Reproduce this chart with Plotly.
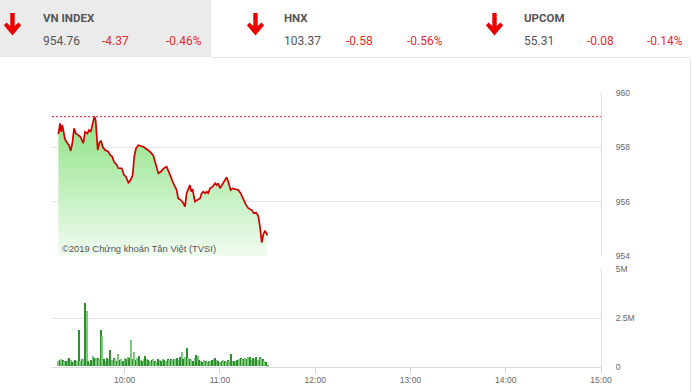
import plotly.graph_objects as go
import pandas as pd

DAY = "2019-01-01 "

# Intraday VN-Index (time, value)
TIMES = ["09:18:12","09:19:18","09:19:54","09:20:42","09:21:18","09:22:24","09:23:54","09:24:54","09:26:00","09:27:00",
         "09:28:06","09:29:12","09:30:48","09:32:18","09:33:54","09:35:00","09:36:30","09:37:30","09:38:36","09:39:36",
         "09:40:54","09:41:42","09:42:24","09:43:00","09:44:00","09:45:06","09:46:06","09:47:36","09:49:42","09:50:42",
         "09:52:12","09:53:18","09:55:00","09:56:00","09:58:06","09:59:36","10:00:48","10:02:18","10:03:48","10:05:00",
         "10:06:00","10:07:06","10:08:36","10:10:06","10:11:42","10:13:54","10:15:54","10:18:00","10:19:42","10:21:12",
         "10:22:42","10:24:42","10:26:24","10:27:30","10:29:00","10:30:36","10:32:42","10:33:42","10:35:24","10:36:54",
         "10:38:00","10:39:00","10:40:00","10:41:06","10:41:54","10:42:48","10:43:36","10:44:18","10:45:42","10:47:24",
         "10:48:30","10:49:30","10:50:36","10:51:36","10:52:36","10:53:42","10:55:24","10:56:54","10:57:54","10:58:54",
         "11:00:00","11:01:06","11:02:30","11:04:12","11:05:12","11:06:42","11:08:00","11:10:06","11:11:30","11:13:00",
         "11:14:42","11:16:24","11:17:48","11:20:00","11:21:24","11:22:42","11:24:06","11:25:12","11:26:18","11:27:18",
         "11:28:18","11:29:24","11:30:00"]
INDEX = [958.49,958.88,958.57,958.82,958.64,958.29,958.15,958.08,957.87,958.15,
         958.70,958.51,958.45,958.37,958.15,958.57,958.51,958.64,958.57,958.86,
         959.13,959.00,958.51,957.90,958.17,958.24,958.02,957.90,957.84,957.72,
         957.65,957.47,957.35,957.23,957.23,956.98,956.92,956.70,956.80,956.98,
         957.65,957.96,958.08,958.05,958.02,957.93,957.84,957.70,957.29,957.04,
         957.10,957.23,957.29,957.10,956.92,956.68,956.43,956.12,956.06,955.94,
         955.82,956.31,956.43,956.61,956.37,956.46,956.18,956.00,956.06,956.12,
         956.31,956.37,956.31,956.37,956.31,956.49,956.55,956.68,956.61,956.68,
         956.49,956.61,956.74,956.90,956.74,956.43,956.49,956.46,956.43,956.31,
         956.06,955.88,955.76,955.69,955.57,955.60,955.47,955.08,954.49,954.78,
         954.93,954.84,954.76]
REFERENCE = 959.13

# Volume per minute (millions of shares), starting 09:18
VOL_START = "09:18"
VOLUME = [0.30,0.35,0.38,0.33,0.28,0.30,0.40,0.42,0.35,0.25,
          0.30,0.32,0.28,1.88,0.30,0.38,0.40,3.25,2.87,0.30,
          0.15,0.35,0.55,0.45,0.42,0.45,0.40,1.88,1.57,0.40,
          0.30,0.45,0.40,0.84,0.35,0.45,0.40,0.30,0.63,0.35,
          0.40,0.30,0.45,0.40,0.50,0.45,1.38,0.40,0.72,0.35,
          0.45,0.55,0.35,0.30,0.40,0.55,0.40,0.35,0.30,0.35,
          0.40,0.30,0.25,0.40,0.35,0.30,0.40,0.35,0.30,0.38,
          0.35,0.40,0.35,0.38,0.40,0.45,0.35,0.50,0.72,0.40,
          0.50,0.97,0.45,0.40,0.35,0.30,0.45,0.58,0.55,0.35,
          0.30,0.25,0.35,0.30,0.25,0.30,0.28,0.35,0.40,0.42,
          0.35,0.30,0.25,0.30,0.35,0.30,0.25,0.35,0.30,0.63,
          0.30,0.28,0.30,0.35,0.40,0.42,0.38,0.40,0.45,0.40,
          0.48,0.50,0.35,0.45,0.40,0.48,0.35,0.50,0.45,0.40,
          0.30,0.25,0.05]

X_TICKS = ["10:00", "11:00", "12:00", "13:00", "14:00", "15:00"]
Y1_TICKS = [954, 956, 958, 960]
Y2_TICKS = [0, 2.5, 5]
Y2_TEXT = ["0", "2.5M", "5M"]

HEADER = [
    ("VN INDEX", "954.76", "-4.37", "-0.46%"),
    ("HNX", "103.37", "-0.58", "-0.56%"),
    ("UPCOM", "55.31", "-0.08", "-0.14%"),
]
COPYRIGHT = "©2019 Chứng khoán Tân Việt (TVSI)"

W, H = 692, 392
def px(x): return x / W
def py(y): return 1 - y / H

times = pd.to_datetime([DAY + t for t in TIMES])
vol_times = pd.date_range(DAY + VOL_START, periods=len(VOLUME), freq="min")
DARK, LIGHT = "#2f8f2f", "#7cc87c"
vol_colors = [DARK if i % 2 else LIGHT for i in range(len(VOLUME))]

fig = go.Figure()
fig.add_trace(go.Scatter(
    x=times, y=INDEX, mode="lines", line=dict(color="#d00000", width=1.7),
    fill="tozeroy",
    fillgradient=dict(type="vertical", start=954, stop=959.2,
                      colorscale=[[0, "rgb(242,252,242)"], [1, "rgb(140,226,130)"]]),
    xaxis="x", yaxis="y", hoverinfo="skip"))
fig.add_trace(go.Bar(
    x=vol_times, y=VOLUME, width=42000, marker=dict(color=vol_colors, line=dict(width=0)),
    xaxis="x2", yaxis="y2", hoverinfo="skip"))

xr = [pd.Timestamp(DAY + "09:14:12"), pd.Timestamp(DAY + "15:00:00")]
grid = "#e4e4e4"
tickfont = dict(family="Liberation Sans, Arial", size=8.5, color="#666")

fig.update_layout(
    width=W, height=H, margin=dict(l=0, r=0, t=0, b=0, autoexpand=False),
    paper_bgcolor="white", plot_bgcolor="white", showlegend=False, bargap=0,
    xaxis=dict(domain=[px(52), px(601)], range=xr, type="date", showticklabels=False,
               showgrid=False, zeroline=False, anchor="y", automargin=False),
    yaxis=dict(domain=[py(256.1), py(92.9)], range=[953.995, 960.005], side="right",
               tickvals=Y1_TICKS, showgrid=True, gridcolor=grid, gridwidth=1, zeroline=False,
               showline=True, linecolor="#dcdcdc", linewidth=1, tickfont=tickfont,
               ticks="", ticklabelstandoff=12, anchor="x", automargin=False),
    xaxis2=dict(domain=[px(52), px(601)], range=xr, type="date", anchor="y2",
                tickvals=[pd.Timestamp(DAY + t) for t in X_TICKS], ticktext=X_TICKS,
                ticks="outside", ticklen=5, tickcolor="#d0d0d0", showgrid=False,
                showline=True, linecolor="#dcdcdc", tickfont=tickfont, zeroline=False,
                automargin=False),
    yaxis2=dict(domain=[py(366.7), py(269.3)], range=[0, 5.01], side="right", anchor="x2",
                tickvals=Y2_TICKS, ticktext=Y2_TEXT, showgrid=True, gridcolor=grid,
                zeroline=False, showline=True, linecolor="#dcdcdc", tickfont=tickfont,
                ticks="", ticklabelstandoff=12, automargin=False),
)

shapes = [
    dict(type="line", xref="x domain", yref="y", x0=0, x1=1, y0=REFERENCE, y1=REFERENCE,
         line=dict(color="#e02020", width=1, dash="2px,2px")),
    dict(type="rect", xref="paper", yref="paper", x0=0, x1=px(211), y0=py(57), y1=1,
         fillcolor="#ebebeb", line=dict(width=0), layer="below"),
    dict(type="line", xref="paper", yref="paper", x0=px(211), x1=px(690), y0=py(57.5), y1=py(57.5),
         line=dict(color="#e6e6e6", width=1)),
    dict(type="line", xref="paper", yref="paper", x0=px(690.5), x1=px(690.5), y0=py(57.5), y1=0,
         line=dict(color="#e6e6e6", width=1)),
]

def arrow(cx):
    pts = [(-2.2, 13), (2.2, 13), (2.2, 26), (6, 22.5), (8.6, 25.2), (0, 35.5), (-8.6, 25.2), (-6, 22.5), (-2.2, 26)]
    return "M " + " L ".join(f"{px(cx + a):.5f},{py(b):.5f}" for a, b in pts) + " Z"

HFONT = "Roboto"
annotations = []
for (name, val, chg, pct), ax, cx, xchg, xpct in zip(
        HEADER, [44, 285, 525], [12.5, 255.5, 494.5], [103, 347, 588], [167, 408, 648]):
    shapes.append(dict(type="path", xref="paper", yref="paper", path=arrow(cx),
                       fillcolor="#ee0000", line=dict(width=0)))
    annotations.append(dict(x=px(ax - 3), y=py(18), text=f"<b>{name}</b>", showarrow=False,
                            xanchor="left", yanchor="middle", xref="paper", yref="paper",
                            font=dict(family=HFONT, size=11.5, color="#555")))
    annotations.append(dict(x=px(ax - 3), y=py(41), text=val, showarrow=False,
                            xanchor="left", yanchor="middle", xref="paper", yref="paper",
                            font=dict(family=HFONT, size=12, color="#555")))
    for t, xx in ((chg, xchg), (pct, xpct)):
        annotations.append(dict(x=px(xx - 3), y=py(41), text=t, showarrow=False,
                                xanchor="left", yanchor="middle", xref="paper", yref="paper",
                                font=dict(family=HFONT, size=12, color="#e32b2b")))

annotations.append(dict(x=px(60), y=py(248), text=COPYRIGHT, showarrow=False, xanchor="left",
                        yanchor="middle", xref="paper", yref="paper",
                        font=dict(family="Liberation Sans, Arial", size=9.4, color="#555")))

fig.update_layout(shapes=shapes, annotations=annotations)
fig.write_html("out.html")
